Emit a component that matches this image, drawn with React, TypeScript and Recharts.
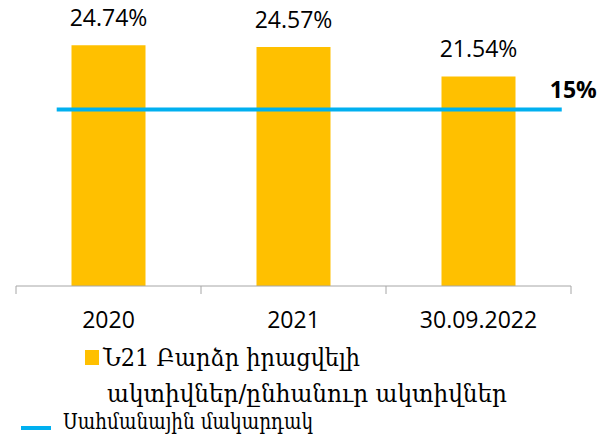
import { ComposedChart, Bar, XAxis, YAxis, ReferenceLine, LabelList } from 'recharts';

// Liquidity ratio by period
const categories = ['2020', '2021', '30.09.2022'];
const ratioValues = [24.74, 24.57, 21.54];

// Minimum level, drawn across the periods (start/end given in category units)
const limitValue = 15;
const limitStart = 0.22;
const limitEnd = 2.95;

const barName = 'Ն21 Բարձր իրացվելի ակտիվներ/ընհանուր ակտիվներ';
const barNameLines = ['Ն21 Բարձր իրացվելի', 'ակտիվներ/ընհանուր ակտիվներ'];
const limitName = 'Սահմանային մակարդակ';

const BAR_COLOR = '#FFC000';
const LINE_COLOR = '#00B0F0';
const AXIS_COLOR = '#A6A6A6';

// pos = centre of each category in category units (for the hidden numeric axis)
const data = categories.map((name, i) => ({ name, pos: i + 0.5, ratio: ratioValues[i] }));

const formatPct = (v: number) => `${Number(v).toFixed(2)}%`;

// category tick: label plus Excel-style tick marks on the band edges
const CategoryTick = (props: any) => {
  const { x, y, payload, index, visibleTicksCount } = props;
  const half = payload?.offset || 92.5;
  const isLast = index === (visibleTicksCount ?? categories.length) - 1;
  return (
    <g>
      <line x1={x - half} x2={x - half} y1={y} y2={y + 8} stroke={AXIS_COLOR} />
      {isLast && <line x1={x + half} x2={x + half} y1={y} y2={y + 8} stroke={AXIS_COLOR} />}
      <text x={x} y={y + 42} textAnchor="middle" fill="#000" fontSize={23}>
        {payload.value}
      </text>
    </g>
  );
};

const LimitLabel = (props: any) => {
  const vb = props.viewBox || {};
  const x2 = vb.x2 ?? (vb.x + (vb.width || 0));
  const y = vb.y1 ?? vb.y;
  return (
    <text x={x2 - 12} y={y - 11} fontSize={23} fontWeight="bold" fill="#000">
      {`${limitValue}%`}
    </text>
  );
};

export default function App() {
  return (
    <div style={{ position: 'absolute', left: 0, top: 0, width: 599, height: 436, fontFamily: '"Open Sans", sans-serif' }}>
      <ComposedChart
        width={599}
        height={340}
        data={data}
        margin={{ top: 33, right: 28, bottom: 10, left: 16 }}
        barCategoryGap="30%"
      >
        <XAxis
          dataKey="name"
          height={44}
          interval={0}
          axisLine={{ stroke: AXIS_COLOR }}
          tickLine={false}
          tickSize={0}
          tickMargin={0}
          tick={<CategoryTick />}
        />
        <XAxis xAxisId="idx" dataKey="pos" type="number" domain={[0, categories.length]} allowDataOverflow hide />
        <YAxis yAxisId="main" domain={[0, 26]} hide />
        <YAxis yAxisId="limit" orientation="right" domain={[0, 21.5]} allowDataOverflow hide />
        <Bar yAxisId="main" dataKey="ratio" name={barName} fill={BAR_COLOR} isAnimationActive={false}>
          <LabelList dataKey="ratio" position="top" offset={19} formatter={formatPct} fill="#000" fontSize={23} />
        </Bar>
        <ReferenceLine
          xAxisId="idx"
          yAxisId="limit"
          segment={[{ x: limitStart, y: limitValue }, { x: limitEnd, y: limitValue }]}
          ifOverflow="visible"
          stroke={LINE_COLOR}
          strokeWidth={4}
          label={<LimitLabel />}
        />
      </ComposedChart>
      <svg width={599} height={106} style={{ position: 'absolute', left: 0, top: 330 }}>
        <g fontFamily='"DejaVu Serif", "DejaVu Sans", serif' fill="#000">
          <rect x={85} y={20} width={14} height={15} fill={BAR_COLOR} />
          <text x={103} y={36} fontSize={24} textLength={257} lengthAdjust="spacingAndGlyphs">{barNameLines[0]}</text>
          <text x={107} y={72} fontSize={24} textLength={400} lengthAdjust="spacingAndGlyphs">{barNameLines[1]}</text>
          <line x1={21} x2={51} y1={98} y2={98} stroke={LINE_COLOR} strokeWidth={4} />
          <text x={63} y={99} fontSize={22} textLength={250} lengthAdjust="spacingAndGlyphs">{limitName}</text>
        </g>
      </svg>
    </div>
  );
}
